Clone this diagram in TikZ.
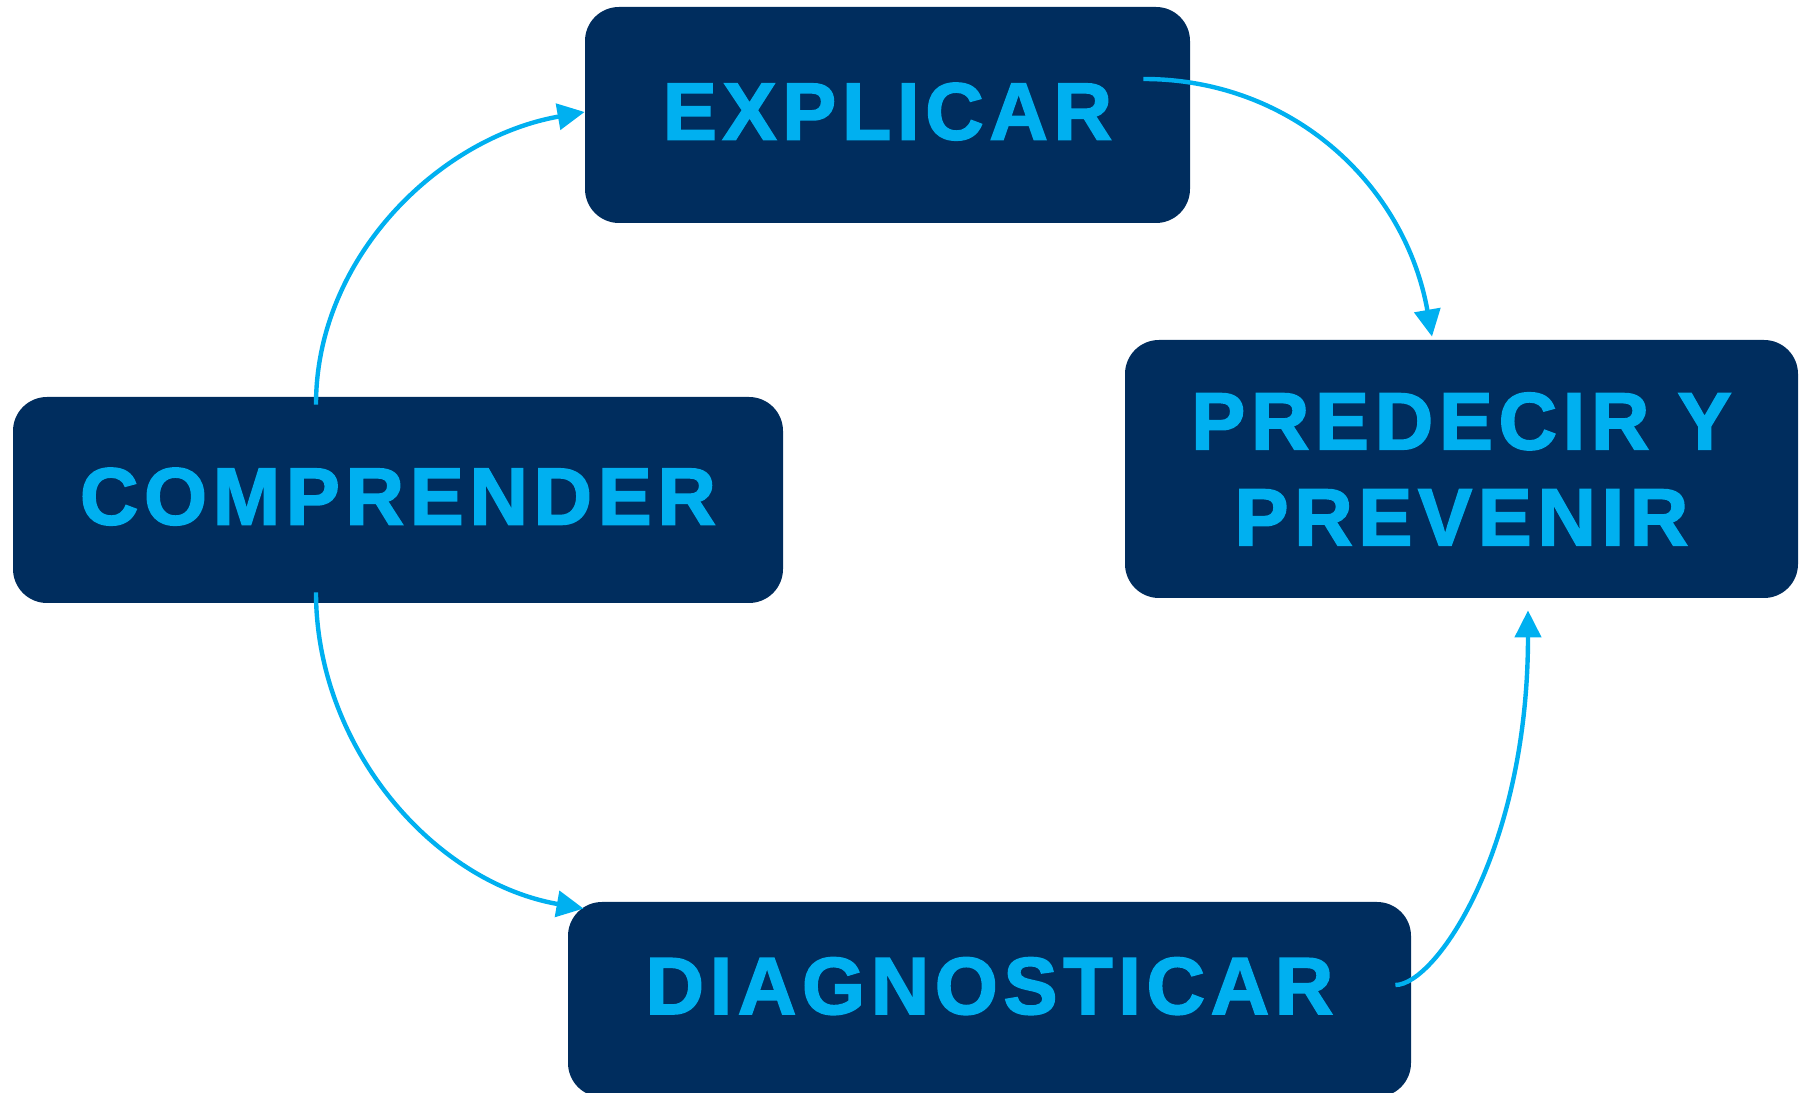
\documentclass[tikz,border=0pt]{standalone}
\usepackage{fontspec}
\newfontfamily\rotulo[LetterSpace=7,FakeBold=2]{Liberation Sans Bold}
\usepackage{tikz}
\usetikzlibrary{arrows.meta}
\definecolor{azulcaja}{HTML}{002D5E}
\definecolor{celeste}{HTML}{00B0F0}
\tikzset{
  caja/.style={fill=azulcaja, rounded corners=17pt, text=celeste, align=center,
    text height=29pt, text depth=4.5pt, font=\rotulo\fontsize{40.5pt}{48pt}\selectfont},
  flecha/.style={draw=celeste, line width=2.2pt, -{Triangle[length=13.5pt,width=13pt]}}
}
\begin{document}
\begin{tikzpicture}[x=0.5pt,y=0.5pt]
          \useasboundingbox (0,0) rectangle (1806,1093);
          \clip (0,0) rectangle (1806,1093);
          \node [caja, minimum width=302.5pt, minimum height=108pt] (explicar) at (887.5,978) {EXPLICAR};
          \node [caja, minimum width=336.5pt, minimum height=129pt, text height=, text depth=] (predecir) at (1461.5,624) {PREDECIR Y\\PREVENIR};
          \node [caja, minimum width=385pt, minimum height=103pt] (comprender) at (398,593) {COMPRENDER};
          \node [caja, minimum width=421.5pt, minimum height=97.5pt, text depth=14.5pt] (diagnosticar) at (989.5,93.5) {DIAGNOSTICAR};
          \draw [flecha] ([shift={(-41pt,-4pt)}]comprender.north) to[out=90,in=190,looseness=0.95] ([yshift=1.5pt]explicar.west);
          \draw [flecha] ([shift={(-23.5pt,18pt)}]explicar.east) to[out=0,in=100] ([shift={(-14.75pt,1.5pt)}]predecir.north);
          \draw [flecha] ([shift={(-41pt,5.5pt)}]comprender.south) to[out=-90,in=170,looseness=0.95] ([shift={(8pt,-3.5pt)}]diagnosticar.north west);
          \draw [flecha] ([shift={(-8pt,7.25pt)}]diagnosticar.east) .. controls +(40,0) and +(0,-240) .. ([shift={(33.25pt,-6pt)}]predecir.south);
        \end{tikzpicture}
\end{document}
